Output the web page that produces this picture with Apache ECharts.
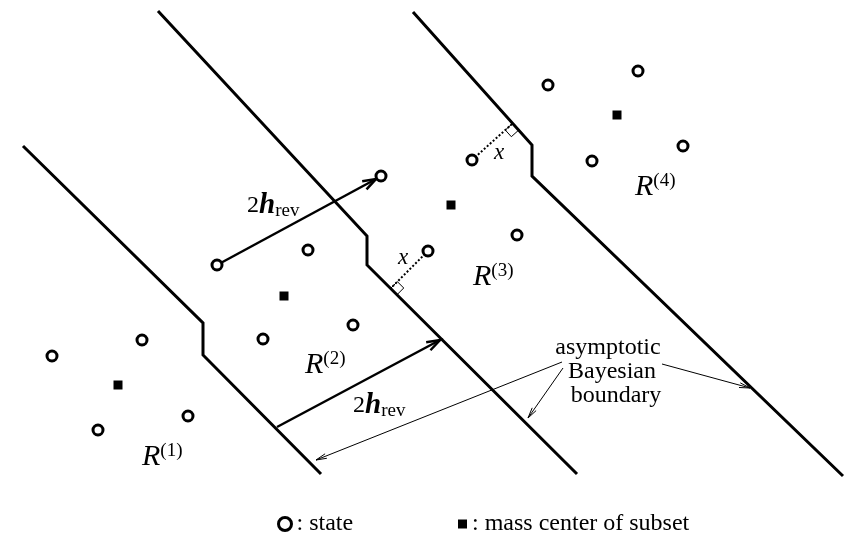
<!DOCTYPE html>
<html>
<head>
<meta charset="utf-8">
<script src="https://cdn.jsdelivr.net/npm/echarts@6/dist/echarts.min.js"></script>
<style>
    html, body { margin: 0; padding: 0; background: #fff; }
    #container { width: 848px; height: 537px; }
</style>
</head>
<body>
<div id="container"></div>
<script>
    // 边界折线（图上坐标，y 向下）
    let boundary1 = [[23, 146], [203, 323], [203, 355], [321, 474]];
    let boundary2 = [[158, 11], [367, 236], [367, 265], [577, 474]];
    let boundary3 = [[413, 12], [532, 145], [532, 176], [843, 476]];

    // 状态点 / 质心
    let states = [
        [52, 356], [142, 340], [188, 416], [98, 430],
        [217, 265], [308, 250], [263, 339], [353, 325],
        [381, 176], [472, 160], [517, 235], [428, 251],
        [548, 85], [638, 71], [683, 146], [592, 161]
    ];
    let centers = [[118, 385], [284, 296], [451, 205], [617, 115]];

    // 箭头 [x1, y1, x2, y2]
    let hrevArrows = [[217, 265, 376, 179], [277, 427, 440, 340]];
    let noteArrows = [[562, 362, 316, 460], [563, 368, 528, 418], [662, 364, 750, 388]];

    // 垂线 [点x, 点y, 垂足x, 垂足y]
    let perpLines = [[472, 160, 512, 124], [428, 251, 391, 288]];

    // 文字
    let regionNames = ['(1)', '(2)', '(3)', '(4)'];
    let regionLabelXY = [[142, 457], [305, 365], [473, 277], [635, 187]];
    let hrevLabelXY = [[247, 206], [353, 406]];
    let xLabelXY = [[499, 153], [403, 258]];
    let noteLines = ['asymptotic', 'Bayesian', 'boundary'];
    let noteLineXY = [[608, 348], [612, 372], [616, 396]];

    let serif = "'Liberation Serif', 'DejaVu Serif', serif";

    function lineSeries(points) {
        return {
            type: 'line',
            data: points,
            symbol: 'none',
            silent: true,
            lineStyle: { color: '#000', width: 3, join: 'miter', cap: 'butt' },
            z: 2
        };
    }

    function arrowSeries(data, width, headLen, spread) {
        return {
            type: 'custom',
            data: data,
            silent: true,
            z: 3,
            renderItem: function (params, api) {
                let p1 = api.coord([api.value(0), api.value(1)]);
                let p2 = api.coord([api.value(2), api.value(3)]);
                let ang = Math.atan2(p2[1] - p1[1], p2[0] - p1[0]);
                let h1 = [p2[0] - headLen * Math.cos(ang - spread), p2[1] - headLen * Math.sin(ang - spread)];
                let h2 = [p2[0] - headLen * Math.cos(ang + spread), p2[1] - headLen * Math.sin(ang + spread)];
                return {
                    type: 'group',
                    children: [{
                        type: 'line',
                        shape: { x1: p1[0], y1: p1[1], x2: p2[0], y2: p2[1] },
                        style: { stroke: '#000', lineWidth: width }
                    }, {
                        type: 'polyline',
                        shape: { points: [h1, p2, h2] },
                        style: { stroke: '#000', lineWidth: width, fill: null }
                    }]
                };
            }
        };
    }

    // 虚线垂线 + 直角标记
    function perpSeries(data) {
        return {
            type: 'custom',
            data: data,
            silent: true,
            z: 3,
            renderItem: function (params, api) {
                let c = api.coord([api.value(0), api.value(1)]);
                let f = api.coord([api.value(2), api.value(3)]);
                let dx = c[0] - f[0], dy = c[1] - f[1];
                let len = Math.sqrt(dx * dx + dy * dy);
                let a = [dx / len, dy / len];
                let b = [a[1], -a[0]];
                if (b[1] < 0) { b = [-b[0], -b[1]]; }
                let s = 9;
                let q1 = [f[0] + a[0] * s, f[1] + a[1] * s];
                let q2 = [q1[0] + b[0] * s, q1[1] + b[1] * s];
                let q3 = [f[0] + b[0] * s, f[1] + b[1] * s];
                return {
                    type: 'group',
                    children: [{
                        type: 'line',
                        shape: { x1: c[0], y1: c[1], x2: f[0], y2: f[1] },
                        style: { stroke: '#000', lineWidth: 2, lineDash: [2, 2] }
                    }, {
                        type: 'polyline',
                        shape: { points: [q3, q2, q1, f] },
                        style: { stroke: '#000', lineWidth: 1, fill: null }
                    }]
                };
            }
        };
    }

    function textSeries(points, makeStyle) {
        return {
            type: 'custom',
            data: points,
            silent: true,
            z: 5,
            renderItem: function (params, api) {
                let p = api.coord([api.value(0), api.value(1)]);
                let st = makeStyle(params.dataIndex);
                st.fill = '#000';
                return { type: 'text', x: p[0], y: p[1], style: st };
            }
        };
    }

    let dom = document.getElementById('container');
    let myChart = echarts.init(dom);

    let option = {
        animation: false,
        backgroundColor: '#fff',
        grid: { left: 0, right: 0, top: 0, bottom: 0 },
        xAxis: { type: 'value', min: 0, max: 848, show: false },
        yAxis: { type: 'value', min: 0, max: 537, inverse: true, show: false },
        legend: [{
            data: ['state'],
            left: 272,
            top: 507,
            itemWidth: 13,
            itemHeight: 13,
            selectedMode: false,
            formatter: ': {name}',
            itemStyle: { color: '#fff', borderColor: '#000', borderWidth: 3 },
            textStyle: { fontFamily: serif, fontSize: 24, color: '#000' }
        }, {
            data: ['mass center of subset'],
            left: 453,
            top: 507,
            itemWidth: 9,
            itemHeight: 9,
            selectedMode: false,
            formatter: ': {name}',
            itemStyle: { color: '#000', borderWidth: 0 },
            textStyle: { fontFamily: serif, fontSize: 24, color: '#000' }
        }],
        series: [
            lineSeries(boundary1),
            lineSeries(boundary2),
            lineSeries(boundary3),
            perpSeries(perpLines),
            arrowSeries(hrevArrows, 2.5, 14, 0.33),
            arrowSeries(noteArrows, 1, 11, 0.22),
            {
                name: 'state',
                type: 'scatter',
                data: states,
                symbol: 'circle',
                symbolSize: 10,
                silent: true,
                itemStyle: { color: '#fff', borderColor: '#000', borderWidth: 3, opacity: 1 },
                z: 4
            },
            {
                name: 'mass center of subset',
                type: 'scatter',
                data: centers,
                symbol: 'rect',
                symbolSize: 9,
                silent: true,
                itemStyle: { color: '#000', opacity: 1 },
                z: 4
            },
            textSeries(regionLabelXY, function (i) {
                return {
                    text: '{r|R}{s|' + regionNames[i] + '}',
                    align: 'left',
                    verticalAlign: 'middle',
                    rich: {
                        r: { fontFamily: serif, fontSize: 30, fontStyle: 'italic' },
                        s: { fontFamily: serif, fontSize: 19, verticalAlign: 'top' }
                    }
                };
            }),
            textSeries(hrevLabelXY, function (i) {
                return {
                    text: '{n|2}{h|h}{s|rev}',
                    align: 'left',
                    verticalAlign: 'middle',
                    rich: {
                        n: { fontFamily: serif, fontSize: 24 },
                        h: { fontFamily: serif, fontSize: 29, fontStyle: 'italic', fontWeight: 'bold' },
                        s: { fontFamily: serif, fontSize: 19, verticalAlign: 'bottom', padding: [6, 0, 0, 0] }
                    }
                };
            }),
            textSeries(xLabelXY, function (i) {
                return {
                    text: 'x',
                    align: 'center',
                    verticalAlign: 'middle',
                    fontFamily: serif,
                    fontSize: 23,
                    fontStyle: 'italic'
                };
            }),
            textSeries(noteLineXY, function (i) {
                return {
                    text: noteLines[i],
                    align: 'center',
                    verticalAlign: 'middle',
                    fontFamily: serif,
                    fontSize: 24
                };
            })
        ]
    };

    myChart.setOption(option, true);
</script>
</body>
</html>
